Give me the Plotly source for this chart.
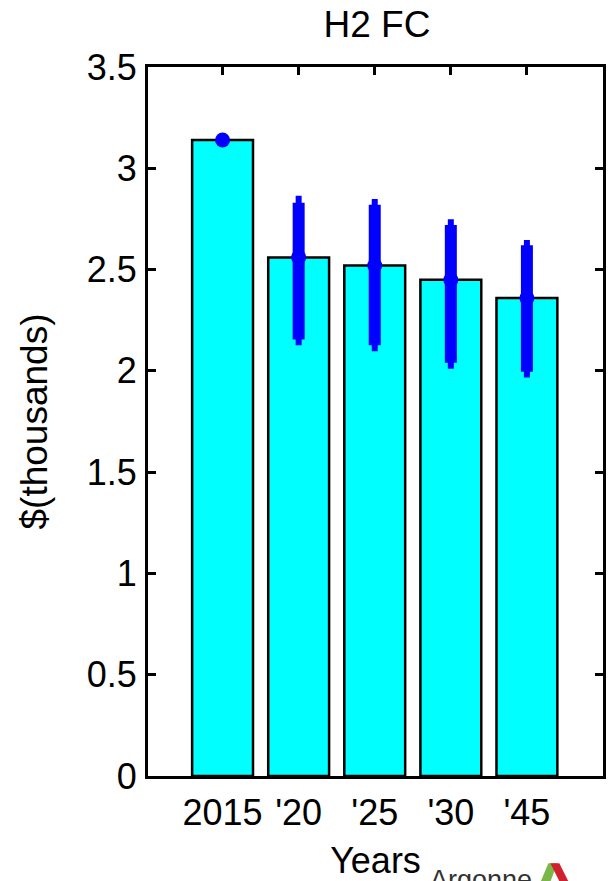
import plotly.graph_objects as go

# ---- data ----
categories = [1, 2, 3, 4, 5]
tick_labels = ["2015", "'20", "'25", "'30", "'45"]
bar_values = [3.14, 2.56, 2.52, 2.45, 2.36]

err_cats = [2, 3, 4, 5]
err_mean = [2.56, 2.52, 2.45, 2.36]
inner_hi = [2.83, 2.82, 2.72, 2.62]
inner_lo = [2.155, 2.127, 2.04, 1.996]
outer_hi = [2.864, 2.848, 2.748, 2.646]
outer_lo = [2.127, 2.097, 2.011, 1.967]

y_ticks = [0, 0.5, 1, 1.5, 2, 2.5, 3, 3.5]
y_tick_text = ["0", "0.5", "1", "1.5", "2", "2.5", "3", "3.5"]

FONT = "Liberation Sans, Arial, sans-serif"
BLUE = "#0000FF"

fig = go.Figure()

fig.add_trace(go.Bar(
    x=categories, y=bar_values, width=0.8,
    marker=dict(color="#00FFFF", line=dict(color="black", width=2.5)),
    showlegend=False, hoverinfo="skip",
))

# outer (thinner) part of the error bars
fig.add_trace(go.Scatter(
    x=err_cats, y=err_mean, mode="markers",
    marker=dict(size=1, color=BLUE, opacity=0),
    error_y=dict(type="data", symmetric=False,
                 array=[h - m for h, m in zip(outer_hi, err_mean)],
                 arrayminus=[m - l for m, l in zip(err_mean, outer_lo)],
                 thickness=6, width=0, color=BLUE),
    showlegend=False, hoverinfo="skip",
))
# inner (thicker) part of the error bars
fig.add_trace(go.Scatter(
    x=err_cats, y=err_mean, mode="markers",
    marker=dict(size=1, color=BLUE, opacity=0),
    error_y=dict(type="data", symmetric=False,
                 array=[h - m for h, m in zip(inner_hi, err_mean)],
                 arrayminus=[m - l for m, l in zip(err_mean, inner_lo)],
                 thickness=12, width=0, color=BLUE),
    showlegend=False, hoverinfo="skip",
))
# mean dots
fig.add_trace(go.Scatter(
    x=categories, y=bar_values, mode="markers",
    marker=dict(size=15, color=BLUE, line=dict(width=0)),
    showlegend=False, hoverinfo="skip",
))

fig.update_layout(
    width=613, height=881,
    margin=dict(l=148, r=7, t=67, b=102),
    paper_bgcolor="white", plot_bgcolor="white",
    font=dict(family=FONT, size=36, color="black"),
    title=dict(text="H2 FC", x=(148 + 606) / 2 / 613, xanchor="center",
               y=1 - 24 / 881, yanchor="middle", yref="container",
               font=dict(size=37, family=FONT, color="black")),
    bargap=0.2,
)

fig.update_xaxes(
    range=[0.02, 6.0],
    tickvals=categories, ticktext=tick_labels,
    ticks="inside", ticklen=8, tickwidth=2.5, tickcolor="black",
    showline=True, linecolor="black", linewidth=3, mirror="ticks",
    showgrid=False, zeroline=False,
    layer="below traces",
    tickfont=dict(size=36, family=FONT),
    ticklabelstandoff=3,
    title=dict(text="Years", font=dict(size=36, family=FONT), standoff=16),
)
fig.update_yaxes(
    range=[0, 3.5],
    tickvals=y_ticks, ticktext=y_tick_text,
    ticks="inside", ticklen=8, tickwidth=2.5, tickcolor="black",
    showline=True, linecolor="black", linewidth=3, mirror="ticks",
    showgrid=False, zeroline=False,
    tickfont=dict(size=36, family=FONT),
    ticklabelstandoff=1,
    title=dict(text="$(thousands)", font=dict(size=37, family=FONT), standoff=28),
)

# Argonne watermark (cut off at the bottom edge, as in the reference)
fig.add_annotation(
    text="Argonne", xref="paper", yref="paper",
    x=(430 - 148) / 458, xanchor="left",
    y=(778.5 - 866) / 711.5, yanchor="top",
    showarrow=False, font=dict(size=27, family=FONT, color="#333333"),
)
def px_to_paper(px, py):
    return ((px - 148) / 458, (778.5 - py) / 711.5)

green = [(541, 890), (551, 866), (560, 866), (551, 890)]
red = [(553, 866), (562, 866), (574, 890), (565, 890)]
for poly, col in ((green, "#7AB648"), (red, "#D0202E")):
    pts = [px_to_paper(*p) for p in poly]
    path = "M " + " L ".join(f"{a},{b}" for a, b in pts) + " Z"
    fig.add_shape(type="path", path=path, xref="paper", yref="paper",
                  fillcolor=col, line=dict(width=0), layer="above")

fig.write_html("out.html")
